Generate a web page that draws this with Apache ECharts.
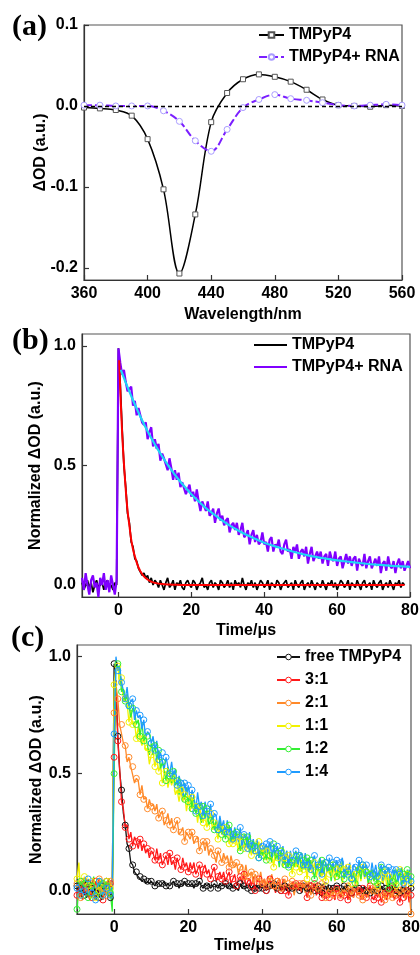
<!DOCTYPE html>
<html><head><meta charset="utf-8">
<script src="https://cdn.jsdelivr.net/npm/echarts@6/dist/echarts.min.js"></script>
<style>
html,body{margin:0;padding:0;background:#fff;width:420px;height:955px;overflow:hidden}
.c{position:absolute;left:0;top:0;width:420px;height:955px}
</style>
</head><body>
<div id="ca" class="c"></div><div id="cb" class="c"></div><div id="cc" class="c"></div>
<script>
// ---------- Panel (a): transient difference spectra ----------
const wavelength = [360,370,380,390,400,410,420,430,440,450,460,470,480,490,500,510,520,530,540,550,560];
const odFree = [-0.002,-0.003,-0.005,-0.012,-0.041,-0.103,-0.207,-0.134,-0.020,0.016,0.033,0.039,0.036,0.030,0.020,0.008,0.001,0.000,-0.001,0.001,0.000];
const odRna  = [0.001,0.001,0.000,0.000,0.000,-0.006,-0.019,-0.043,-0.056,-0.029,-0.002,0.008,0.014,0.009,0.007,0.004,0.001,0.000,0.001,0.002,0.001];
const ticksAx = [360,400,440,480,520,560];
const ticksAy = [-0.2,-0.1,0,0.1];

// ---------- shared time grid (μs) for panels (b) and (c) ----------
const timeUs = [-10,-9.5,-9,-8.5,-8,-7.5,-7,-6.5,-6,-5.5,-5,-4.5,-4,-3.5,-3,-2.5,-2,-1.5,-1,-0.5,
0,0.5,1,1.5,2,2.5,3,3.5,4,4.5,5,5.5,6,6.5,7,7.5,8,8.5,9,9.5,10,
10.5,11,11.5,12,12.5,13,13.5,14,14.5,15,15.5,16,16.5,17,17.5,18,18.5,19,19.5,20,
20.5,21,21.5,22,22.5,23,23.5,24,24.5,25,25.5,26,26.5,27,27.5,28,28.5,29,29.5,30,
30.5,31,31.5,32,32.5,33,33.5,34,34.5,35,35.5,36,36.5,37,37.5,38,38.5,39,39.5,40,
40.5,41,41.5,42,42.5,43,43.5,44,44.5,45,45.5,46,46.5,47,47.5,48,48.5,49,49.5,50,
50.5,51,51.5,52,52.5,53,53.5,54,54.5,55,55.5,56,56.5,57,57.5,58,58.5,59,59.5,60,
60.5,61,61.5,62,62.5,63,63.5,64,64.5,65,65.5,66,66.5,67,67.5,68,68.5,69,69.5,70,
70.5,71,71.5,72,72.5,73,73.5,74,74.5,75,75.5,76,76.5,77,77.5,78,78.5,79,79.5,80];

// ---------- Panel (b) ----------
const bFree = [0.01,-0.02,0.00,0.02,-0.01,0.01,-0.03,0.00,0.02,-0.01,0.00,0.01,-0.02,0.01,0.02,-0.01,0.00,-0.02,0.01,0.00,
0.99,
0.84,0.66,0.50,0.41,0.30,0.26,0.18,0.16,0.11,0.10,0.07,0.07,0.04,0.05,0.03,0.04,0.01,0.03,0.00,0.02,
0.01,-0.01,0.02,0.00,-0.02,0.01,0.03,-0.01,0.00,0.02,-0.02,0.01,0.00,0.02,-0.01,-0.02,0.01,0.02,0.00,-0.01,
0.02,0.01,-0.02,0.00,0.01,0.03,-0.01,0.00,-0.02,0.01,0.02,-0.01,0.01,0.00,-0.02,0.02,0.01,-0.01,0.00,0.02,
-0.01,0.01,-0.02,0.02,0.00,0.01,-0.01,0.03,0.00,-0.02,0.01,0.00,0.02,-0.01,0.01,-0.02,0.00,0.02,0.01,-0.01,
0.00,0.02,-0.02,0.01,0.00,-0.01,0.02,0.01,-0.02,0.00,0.01,0.02,-0.01,0.00,0.01,-0.02,0.02,0.00,-0.01,0.01,
0.02,-0.02,0.00,0.01,-0.01,0.02,0.00,-0.02,0.01,0.01,-0.01,0.02,0.00,-0.02,0.01,0.00,0.02,-0.01,0.01,-0.02,
0.00,0.02,0.01,-0.01,0.00,0.02,-0.02,0.01,0.00,-0.01,0.02,0.00,-0.02,0.01,0.02,-0.01,0.00,0.01,-0.02,0.02,
0.00,-0.01,0.01,0.02,-0.02,0.00,0.01,-0.01,0.02,0.00,-0.02,0.01,0.00,0.02,-0.01,0.01,0.00,null,null,null];
const bRna = [0.03,-0.02,0.05,0.00,-0.04,0.02,0.04,-0.01,0.01,-0.05,0.03,0.00,0.05,-0.02,0.02,-0.03,0.04,0.00,-0.04,0.02,
0.99,
0.93,0.88,0.90,0.85,0.81,0.82,0.83,0.75,0.77,0.71,0.74,0.74,0.68,0.67,0.68,0.61,0.64,0.66,0.58,0.61,
0.57,0.59,0.52,0.55,0.53,0.53,0.48,0.53,0.49,0.44,0.48,0.44,0.47,0.41,0.43,0.43,0.38,0.40,0.42,0.37,
0.39,0.35,0.40,0.35,0.31,0.35,0.35,0.31,0.35,0.29,0.30,0.32,0.26,0.30,0.32,0.27,0.29,0.25,0.27,0.28,
0.22,0.25,0.26,0.23,0.26,0.21,0.23,0.26,0.20,0.21,0.23,0.17,0.21,0.23,0.18,0.21,0.17,0.18,0.22,0.17,
0.18,0.14,0.19,0.20,0.14,0.17,0.16,0.19,0.14,0.13,0.17,0.19,0.14,0.15,0.11,0.16,0.14,0.17,0.11,0.14,
0.15,0.12,0.16,0.09,0.13,0.16,0.10,0.12,0.14,0.11,0.14,0.09,0.12,0.13,0.08,0.14,0.11,0.10,0.14,0.08,
0.11,0.12,0.07,0.10,0.13,0.09,0.12,0.08,0.11,0.12,0.06,0.11,0.09,0.08,0.13,0.07,0.10,0.12,0.07,0.09,
0.11,0.08,0.12,0.05,0.09,0.10,0.06,0.12,0.08,0.07,0.10,0.05,0.09,0.11,0.07,0.10,0.06,0.08,0.10,0.07];
const fitFreeT = [0.2,0.5,1,1.5,2,2.5,3,3.5,4,4.5,5,5.5,6,7,8,9,10,12,14,16,20,30,40,50,60,70,78.5];
const fitFreeV = [0.94,0.82,0.64,0.51,0.40,0.31,0.25,0.19,0.15,0.12,0.095,0.074,0.058,0.036,0.023,0.014,0.009,0.004,0.002,0.001,0,0,0,0,0,0,0];
const fitRnaT = [0.65,2,4,6,8,10,12,14,16,18,20,22,24,26,28,30,32,34,36,38,40,44,48,52,56,60,64,68,72,76,80];
const fitRnaV = [0.90,0.847,0.773,0.705,0.643,0.588,0.538,0.492,0.451,0.414,0.380,0.350,0.322,0.298,0.275,0.254,0.236,0.219,0.204,0.190,0.177,0.157,0.139,0.124,0.113,0.103,0.096,0.089,0.084,0.079,0.076];
const ticksT = [0,20,40,60,80];
const ticksNorm = [0,0.5,1];

// ---------- Panel (c) ----------
const cNames = ['free TMPyP4','3:1','2:1','1:1','1:2','1:4'];
const cFree = [0.02,-0.03,0.01,0.04,-0.02,0.00,0.03,-0.04,0.01,0.02,-0.01,0.03,-0.03,0.00,0.02,-0.02,0.04,0.01,-0.03,0.02,
0.97,
0.87,0.66,0.51,0.43,0.33,0.28,0.20,0.18,0.12,0.11,0.08,0.08,0.06,0.06,0.04,0.05,0.03,0.04,0.03,0.04,
0.03,0.02,0.04,0.03,0.02,0.03,0.04,0.02,0.03,0.02,0.03,0.04,0.02,0.03,0.01,0.03,0.02,0.04,0.02,0.03,
0.02,0.03,0.01,0.03,0.02,0.04,0.02,0.01,0.03,0.02,0.03,0.01,0.02,0.03,0.02,0.01,0.03,0.02,0.02,0.03,
0.01,0.02,0.03,0.01,0.02,0.02,0.00,0.03,0.01,0.02,0.02,0.01,0.03,0.00,0.02,0.01,0.02,0.01,0.03,0.01,
0.02,0.00,0.01,0.02,0.01,0.03,0.00,0.01,0.02,0.00,0.01,0.02,0.00,0.01,0.02,0.01,0.00,0.02,0.01,0.00,
0.01,0.02,0.00,0.01,-0.01,0.02,0.01,0.00,0.01,0.02,0.00,-0.01,0.01,0.02,0.00,0.01,-0.01,0.01,0.00,0.02,
0.00,0.01,-0.01,0.02,0.00,0.01,0.00,-0.01,0.02,0.01,0.00,0.01,-0.01,0.00,0.02,0.00,0.01,-0.01,0.01,0.00,
0.01,0.00,-0.01,0.02,0.00,0.01,-0.01,0.00,0.01,0.02,-0.01,0.00,0.01,-0.01,0.02,0.00,0.01,0.00,-0.01,0.01];
const c31 = [-0.02,0.03,0.00,-0.04,0.02,0.05,-0.01,0.01,-0.03,0.02,0.04,-0.02,0.00,0.03,-0.04,0.01,0.02,-0.01,0.03,-0.05,
0.57,
0.90,0.64,0.52,0.38,0.35,0.27,0.28,0.22,0.25,0.19,0.23,0.21,0.18,0.22,0.17,0.20,0.16,0.18,0.14,0.17,
0.16,0.13,0.18,0.13,0.16,0.11,0.13,0.15,0.11,0.16,0.11,0.13,0.09,0.14,0.11,0.09,0.14,0.10,0.12,0.08,
0.12,0.09,0.12,0.07,0.09,0.11,0.05,0.09,0.11,0.07,0.09,0.05,0.08,0.10,0.04,0.06,0.08,0.05,0.08,0.04,
0.06,0.08,0.03,0.05,0.07,0.02,0.05,0.06,0.03,0.07,0.02,0.04,0.05,0.02,0.06,0.00,0.04,0.05,0.01,0.03,
0.05,0.00,0.03,0.05,0.01,0.02,-0.01,0.04,0.03,0.00,0.05,0.00,0.03,-0.02,0.01,0.02,-0.01,0.03,0.00,0.02,
-0.01,0.03,0.01,-0.03,0.01,0.02,-0.01,0.03,-0.02,0.00,0.01,-0.03,0.02,-0.02,0.00,-0.03,0.02,-0.01,-0.04,0.01,
-0.01,-0.03,0.01,-0.02,0.02,-0.04,0.00,-0.01,-0.03,0.01,-0.02,0.00,-0.04,0.01,-0.01,-0.03,0.00,0.02,-0.03,-0.04,
-0.01,-0.03,0.00,-0.05,-0.02,-0.01,-0.04,0.00,-0.03,0.01,-0.04,-0.02,-0.01,-0.05,0.00,-0.03,-0.02,0.00,-0.05,-0.02];
const c21 = [0.03,0.00,-0.03,0.02,0.04,-0.01,0.01,-0.04,0.03,0.00,-0.02,0.02,0.05,-0.03,0.01,0.03,-0.02,0.00,0.04,-0.01,
0.76,
0.88,0.82,0.71,0.71,0.63,0.62,0.55,0.57,0.53,0.53,0.46,0.48,0.47,0.41,0.45,0.39,0.40,0.35,0.39,0.36,
0.37,0.34,0.37,0.31,0.33,0.34,0.28,0.30,0.33,0.28,0.31,0.26,0.28,0.30,0.24,0.25,0.27,0.21,0.25,0.25,
0.22,0.25,0.20,0.22,0.23,0.17,0.20,0.21,0.17,0.21,0.15,0.18,0.18,0.15,0.12,0.17,0.15,0.12,0.16,0.13,
0.15,0.10,0.15,0.11,0.10,0.12,0.07,0.10,0.11,0.06,0.11,0.06,0.07,0.08,0.03,0.07,0.07,0.04,0.08,0.03,
0.05,0.02,0.06,0.04,0.07,0.02,0.00,0.04,0.05,0.01,0.02,0.05,0.01,0.03,0.00,0.04,-0.02,0.02,0.01,0.03,
0.00,0.03,-0.01,0.02,0.04,-0.02,0.01,0.02,-0.01,0.01,-0.02,0.03,0.00,-0.03,0.02,-0.01,0.01,-0.02,0.02,0.00,
0.01,-0.02,0.01,-0.01,-0.01,0.02,-0.04,0.00,-0.03,0.01,-0.01,-0.02,0.01,-0.04,0.00,-0.01,-0.03,0.01,-0.02,0.00,
-0.02,0.01,-0.03,-0.01,0.00,-0.04,0.01,-0.02,0.00,-0.03,0.02,-0.01,-0.03,0.00,-0.02,0.01,-0.04,-0.01,0.00,-0.10];
const c11 = [0.05,0.12,-0.02,0.03,0.06,-0.01,0.02,-0.04,0.04,0.01,-0.03,0.03,0.00,0.05,-0.02,0.02,0.04,-0.03,0.01,0.03,
0.88,
0.97,0.96,0.88,0.91,0.81,0.82,0.80,0.72,0.77,0.71,0.72,0.65,0.70,0.65,0.62,0.65,0.60,0.61,0.54,0.58,
0.59,0.53,0.57,0.51,0.53,0.46,0.50,0.51,0.44,0.48,0.45,0.48,0.41,0.43,0.38,0.43,0.38,0.41,0.34,0.39,
0.34,0.40,0.34,0.36,0.29,0.36,0.32,0.29,0.34,0.27,0.30,0.33,0.26,0.29,0.26,0.22,0.29,0.26,0.23,0.27,
0.25,0.20,0.27,0.20,0.24,0.21,0.17,0.23,0.21,0.18,0.23,0.18,0.21,0.15,0.21,0.17,0.15,0.21,0.15,0.18,
0.13,0.17,0.19,0.13,0.16,0.10,0.17,0.14,0.12,0.17,0.10,0.14,0.10,0.15,0.13,0.07,0.13,0.10,0.14,0.08,
0.13,0.09,0.12,0.05,0.13,0.09,0.07,0.12,0.06,0.10,0.12,0.06,0.10,0.04,0.11,0.07,0.08,0.11,0.04,0.09,
0.05,0.10,0.03,0.09,0.07,0.10,0.05,0.03,0.08,0.07,0.02,0.09,0.04,0.10,0.05,0.08,0.03,0.07,0.09,0.04,
0.07,0.02,0.09,0.05,0.03,0.08,0.01,0.06,0.07,0.04,0.08,0.02,0.05,0.09,0.03,0.06,0.01,0.07,0.08,0.03];
const c12 = [-0.08,0.02,0.04,-0.01,0.03,0.05,-0.03,0.00,0.02,0.06,-0.02,0.01,0.04,-0.04,0.03,0.00,0.02,0.05,-0.01,-0.09,
0.50,
0.97,0.97,0.95,0.85,0.86,0.81,0.84,0.79,0.74,0.78,0.77,0.71,0.73,0.66,0.72,0.64,0.66,0.66,0.58,0.63,
0.58,0.62,0.56,0.60,0.52,0.55,0.55,0.47,0.53,0.49,0.46,0.51,0.45,0.47,0.41,0.46,0.43,0.39,0.44,0.38,
0.41,0.35,0.41,0.33,0.36,0.36,0.29,0.36,0.31,0.35,0.28,0.30,0.32,0.26,0.30,0.26,0.31,0.24,0.27,0.22,
0.27,0.28,0.21,0.24,0.21,0.25,0.22,0.17,0.23,0.23,0.19,0.23,0.16,0.20,0.16,0.19,0.21,0.14,0.18,0.15,
0.19,0.13,0.19,0.15,0.12,0.20,0.13,0.16,0.10,0.17,0.14,0.11,0.17,0.10,0.14,0.12,0.10,0.15,0.10,0.15,
0.08,0.13,0.09,0.14,0.08,0.13,0.10,0.05,0.11,0.10,0.06,0.13,0.07,0.12,0.08,0.10,0.04,0.11,0.09,0.06,
0.11,0.07,0.13,0.05,0.10,0.07,0.11,0.05,0.08,0.03,0.10,0.09,0.05,0.11,0.06,0.08,0.03,0.07,0.09,0.04,
0.08,0.03,0.07,0.10,0.04,0.09,0.06,0.01,0.07,0.04,0.09,0.03,0.06,0.08,0.02,0.07,0.04,0.09,0.03,0.06];
const c14 = [0.01,0.04,-0.02,0.03,0.00,-0.03,0.05,0.02,-0.01,0.03,-0.04,0.02,0.04,0.00,-0.02,0.03,0.01,0.04,-0.02,0.02,
0.67,
1.00,0.94,0.96,0.89,0.89,0.82,0.87,0.79,0.81,0.82,0.73,0.77,0.74,0.75,0.69,0.73,0.65,0.68,0.67,0.63,
0.66,0.60,0.64,0.56,0.59,0.59,0.52,0.57,0.53,0.50,0.55,0.49,0.52,0.45,0.49,0.46,0.40,0.46,0.41,0.45,
0.38,0.43,0.40,0.34,0.42,0.36,0.38,0.32,0.38,0.34,0.31,0.37,0.29,0.33,0.32,0.26,0.32,0.27,0.30,0.25,
0.30,0.25,0.27,0.22,0.27,0.24,0.21,0.27,0.18,0.24,0.23,0.18,0.25,0.19,0.22,0.17,0.22,0.14,0.20,0.19,
0.16,0.20,0.16,0.21,0.14,0.18,0.16,0.19,0.12,0.16,0.19,0.13,0.17,0.11,0.17,0.13,0.15,0.17,0.11,0.15,
0.16,0.11,0.16,0.11,0.14,0.09,0.13,0.15,0.09,0.11,0.14,0.07,0.13,0.12,0.08,0.14,0.09,0.12,0.08,0.13,
0.08,0.12,0.14,0.07,0.11,0.08,0.12,0.05,0.11,0.10,0.07,0.13,0.08,0.11,0.06,0.11,0.08,0.06,0.12,0.07,
0.11,0.06,0.09,0.11,0.04,0.09,0.06,0.10,0.03,0.09,0.07,0.09,0.04,0.07,0.10,0.03,0.08,0.05,0.09,0.04];
const cSeriesValues = [cFree, c31, c21, c11, c12, c14];
const cColors = ['#111111','#ff1a1a','#ff8a2a','#f2f200','#33ee33','#1e9bff'];

// ---------- helpers ----------
const SANS = '"Liberation Sans", Arial, Helvetica, sans-serif';
const SERIF = '"Liberation Serif", "Times New Roman", serif';
function pairs(xs, ys){ return xs.map((x,i)=>[x, ys[i]]); }
const txt = {fontFamily:SANS, fontWeight:'bold', fontSize:16, color:'#000'};
function axis(dim, min, max, ticks, name, nameGap, fmt){
  return {
    type:'value', min:min, max:max, name:name, nameLocation:'middle', nameGap:nameGap, nameMoveOverlap:false,
    nameTextStyle: Object.assign({}, txt),
    axisLine:{show:true, onZero:false, lineStyle:{color:'#333', width:1.2}},
    axisTick:{show:true, inside:true, length:5, customValues:ticks, lineStyle:{color:'#333', width:1.2}},
    axisLabel:Object.assign({customValues:ticks, margin:6, formatter:fmt}, txt),
    splitLine:{show:false}
  };
}
const f1 = v => v.toFixed(1);
const f0 = v => String(v);
function gridAt(l,t,w,h){ return {left:l, top:t, width:w, height:h, show:true, borderColor:'#555', borderWidth:1.2, outerBoundsMode:'none', containLabel:false}; }
function label(text, left, top){
  return {type:'text', left:left, top:top, style:{text:text, font:'bold 30px ' + SERIF, fill:'#000'}};
}

// ---------- chart (a) ----------
const ca = echarts.init(document.getElementById('ca'), null, {renderer:'canvas'});
ca.setOption({
  animation:false,
  grid: gridAt(84, 25, 318, 255),
  xAxis: axis('x', 360, 560, ticksAx, 'Wavelength/nm', 27, f0),
  yAxis: axis('y', -0.215, 0.1, ticksAy, 'ΔOD (a.u.)', 35, f1),
  legend: {orient:'vertical', left:258, top:27, padding:0, itemGap:6, itemWidth:25, itemHeight:7,
    textStyle:Object.assign({}, txt), data:['TMPyP4','TMPyP4+ RNA']},
  graphic: [label('(a)', 12, 12)],
  series: [
    {type:'line', name:'TMPyP4', data:pairs(wavelength, odFree), smooth:0.35, symbol:'rect', symbolSize:5,
     lineStyle:{color:'#000', width:1.5}, itemStyle:{color:'#fff', borderColor:'#555', borderWidth:1},
     markLine:{silent:true, symbol:'none', label:{show:false}, lineStyle:{color:'#000', type:[4,3], width:1.3}, data:[{yAxis:0}]}},
    {type:'line', name:'TMPyP4+ RNA', data:pairs(wavelength, odRna), smooth:0.35, symbol:'circle', symbolSize:6,
     lineStyle:{color:'#7b1fff', width:2, type:[8,3]}, itemStyle:{color:'#fff', borderColor:'#a99cff', borderWidth:1}}
  ]
});

// ---------- chart (b) ----------
const cb = echarts.init(document.getElementById('cb'), null, {renderer:'canvas'});
cb.setOption({
  animation:false,
  grid: gridAt(82, 334, 328, 263),
  xAxis: axis('x', -10, 80, ticksT, 'Time/μs', 26, f0),
  yAxis: axis('y', -0.05, 1.05, ticksNorm, 'Normalized ΔOD (a.u.)', 38, f1),
  legend: {orient:'vertical', left:253, top:337, padding:0, itemGap:6, itemWidth:33, itemHeight:7,
    itemStyle:{opacity:0}, lineStyle:{width:2},
    textStyle:Object.assign({}, txt), data:['TMPyP4','TMPyP4+ RNA']},
  graphic: [label('(b)', 12, 326)],
  series: [
    {type:'line', name:'TMPyP4', data:pairs(timeUs, bFree), symbol:'none', lineStyle:{color:'#000', width:1.7}},
    {type:'line', name:'TMPyP4+ RNA', data:pairs(timeUs, bRna), symbol:'none', lineStyle:{color:'#8000ff', width:2.2}},
    {type:'line', name:'fit free', data:pairs(fitFreeT, fitFreeV), smooth:0.4, symbol:'none', lineStyle:{color:'#ff0000', width:2}},
    {type:'line', name:'fit RNA', data:pairs(fitRnaT, fitRnaV), smooth:0.4, symbol:'none', lineStyle:{color:'#1ed6f5', width:2.2}}
  ]
});

// ---------- chart (c) ----------
const cc = echarts.init(document.getElementById('cc'), null, {renderer:'canvas'});
cc.setOption({
  animation:false,
  grid: gridAt(77, 645, 334, 269),
  xAxis: axis('x', -10, 80, ticksT, 'Time/μs', 24, f0),
  yAxis: axis('y', -0.1, 1.05, ticksNorm, 'Normalized ΔOD (a.u.)', 32, f1),
  legend: {orient:'vertical', left:276, top:649, padding:0, itemGap:7, itemWidth:23, itemHeight:7,
    itemStyle:{color:'#fff', borderWidth:1}, lineStyle:{width:2},
    textStyle:Object.assign({}, txt), data:cNames},
  graphic: [label('(c)', 11, 623)],
  series: cNames.map((nm, k) => ({
    type:'line', name:nm, data:pairs(timeUs, cSeriesValues[k]),
    symbol:'circle', symbolSize:(v, p) => (p.dataIndex % 2 === 0 ? 6 : 0),
    lineStyle:{color:cColors[k], width:1.3},
    itemStyle:{color:'rgba(255,255,255,0)', borderColor:cColors[k], borderWidth:1}
  }))
});
</script>
</body></html>
